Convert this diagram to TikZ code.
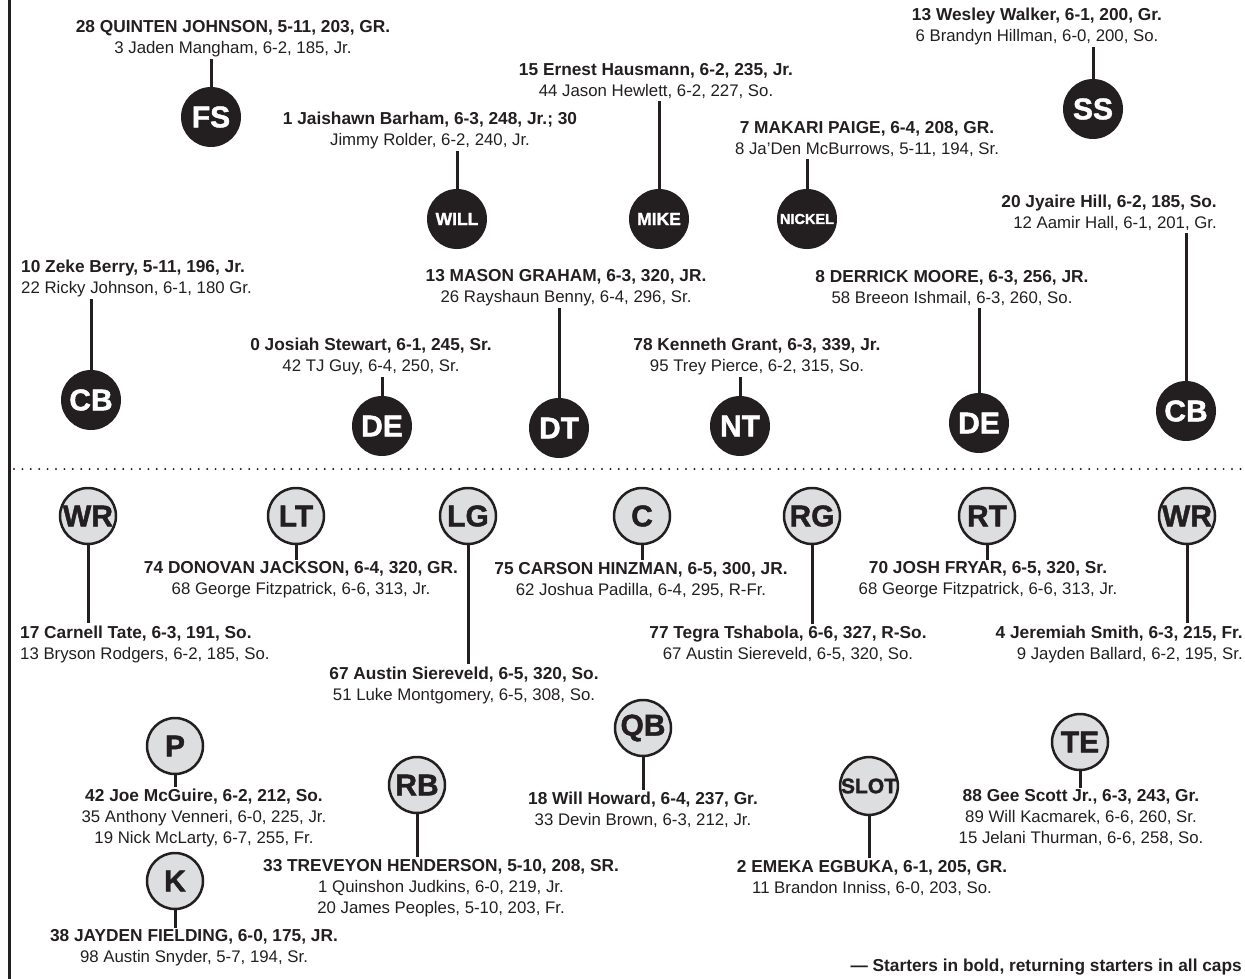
\documentclass[tikz,border=0pt]{standalone}
\usepackage{fontspec}
\setmainfont{Liberation Sans}
\newfontfamily\posfont{Liberation Sans Bold}[FakeBold=1.5]
\usetikzlibrary{positioning}
\definecolor{ink}{RGB}{35,31,32}
\definecolor{offgray}{RGB}{221,222,224}
\newcommand{\starter}[1]{{\bfseries\fontsize{17.3}{21}\selectfont #1}}

\begin{document}
\begin{tikzpicture}[x=1pt, y=-1pt,
    defpos/.style={circle, fill=ink, text=white, minimum size=60pt, inner sep=0pt, font=\posfont\fontsize{30}{30}\selectfont},
    offpos/.style={circle, draw=ink, line width=2.5pt, fill=offgray, text=ink, minimum size=56pt, inner sep=0pt, font=\posfont\fontsize{30}{30}\selectfont},
    info/.style={align=center, text=ink, inner sep=2pt, font=\fontsize{16.8}{21}\selectfont},
    link/.style={draw=ink, line width=3pt}
]
    \useasboundingbox (0,0) rectangle (1245,979);

    % frame and line of scrimmage
    \draw[ink, line width=3pt] (9,0) -- (9,979);
    \draw[ink, line width=2.2pt, line cap=round, dash pattern=on 0pt off 8.4pt] (14,469) -- (1245,469);

    % defense
    \node[defpos] (fs) at (211,117) {FS};
    \node[info] (fs-info) at (233,39) {\starter{28 QUINTEN JOHNSON, 5-11, 203, GR.}\\3 Jaden Mangham, 6-2, 185, Jr.};
    \node[defpos] (ss) at (1093,109) {SS};
    \node[info] (ss-info) at (1037,26) {\starter{13 Wesley Walker, 6-1, 200, Gr.}\\6 Brandyn Hillman, 6-0, 200, So.};
    \node[defpos, font=\posfont\fontsize{17.5}{17.5}\selectfont] (will) at (457,219) {WILL};
    \node[info] (will-info) at (430,130) {\starter{1 Jaishawn Barham, 6-3, 248, Jr.; 30}\\Jimmy Rolder, 6-2, 240, Jr.};
    \node[defpos, font=\posfont\fontsize{17.5}{17.5}\selectfont] (mike) at (659,219) {MIKE};
    \node[info] (mike-info) at (656,81) {\starter{15 Ernest Hausmann, 6-2, 235, Jr.}\\44 Jason Hewlett, 6-2, 227, So.};
    \node[defpos, font=\posfont\fontsize{14.5}{14.5}\selectfont] (nickel) at (807,219) {NICKEL};
    \node[info] (nickel-info) at (867,139) {\starter{7 MAKARI PAIGE, 6-4, 208, GR.}\\8 Ja’Den McBurrows, 5-11, 194, Sr.};
    \node[defpos] (cbl) at (91,400) {CB};
    \node[info, align=left, anchor=west] (cbl-info) at (19,278) {\starter{10 Zeke Berry, 5-11, 196, Jr.}\\22 Ricky Johnson, 6-1, 180 Gr.};
    \node[defpos] (cbr) at (1186,411) {CB};
    \node[info, align=right, anchor=east] (cbr-info) at (1219,213) {\starter{20 Jyaire Hill, 6-2, 185, So.}\\12 Aamir Hall, 6-1, 201, Gr.};
    \node[defpos] (del) at (382,426) {DE};
    \node[info] (del-info) at (371,356) {\starter{0 Josiah Stewart, 6-1, 245, Sr.}\\42 TJ Guy, 6-4, 250, Sr.};
    \node[defpos] (dt) at (559,428) {DT};
    \node[info] (dt-info) at (566,288) {\starter{13 MASON GRAHAM, 6-3, 320, JR.}\\26 Rayshaun Benny, 6-4, 296, Sr.};
    \node[defpos] (nt) at (740,426) {NT};
    \node[info] (nt-info) at (757,356) {\starter{78 Kenneth Grant, 6-3, 339, Jr.}\\95 Trey Pierce, 6-2, 315, So.};
    \node[defpos] (der) at (979,423) {DE};
    \node[info] (der-info) at (952,288) {\starter{8 DERRICK MOORE, 6-3, 256, JR.}\\58 Breeon Ishmail, 6-3, 260, So.};

    \foreach \pos in {fs,ss,will,mike,nickel,cbl,cbr,del,dt,nt,der}
        \draw[link] (\pos) -- (\pos |- \pos-info.south);

    % offense
    \node[offpos] (wrl) at (88,516) {WR};
    \node[info, align=left, anchor=west] (wrl-info) at (18,644) {\starter{17 Carnell Tate, 6-3, 191, So.}\\13 Bryson Rodgers, 6-2, 185, So.};
    \node[offpos] (lt) at (296,516) {LT};
    \node[info] (lt-info) at (301,580) {\starter{74 DONOVAN JACKSON, 6-4, 320, GR.}\\68 George Fitzpatrick, 6-6, 313, Jr.};
    \node[offpos] (lg) at (468,516) {LG};
    \node[info] (lg-info) at (464,685) {\starter{67 Austin Siereveld, 6-5, 320, So.}\\51 Luke Montgomery, 6-5, 308, So.};
    \node[offpos] (c) at (642,516) {C};
    \node[info] (c-info) at (641,580) {\starter{75 CARSON HINZMAN, 6-5, 300, JR.}\\62 Joshua Padilla, 6-4, 295, R-Fr.};
    \node[offpos] (rg) at (812,516) {RG};
    \node[info] (rg-info) at (788,644) {\starter{77 Tegra Tshabola, 6-6, 327, R-So.}\\67 Austin Siereveld, 6-5, 320, So.};
    \node[offpos] (rt) at (987,516) {RT};
    \node[info] (rt-info) at (988,580) {\starter{70 JOSH FRYAR, 6-5, 320, Sr.}\\68 George Fitzpatrick, 6-6, 313, Jr.};
    \node[offpos] (wrr) at (1187,516) {WR};
    \node[info, align=right, anchor=east] (wrr-info) at (1245,644) {\starter{4 Jeremiah Smith, 6-3, 215, Fr.}\\9 Jayden Ballard, 6-2, 195, Sr.};
    \node[offpos] (p) at (175,746) {P};
    \node[info] (p-info) at (204,818) {\starter{42 Joe McGuire, 6-2, 212, So.}\\35 Anthony Venneri, 6-0, 225, Jr.\\19 Nick McLarty, 6-7, 255, Fr.};
    \node[offpos] (k) at (175,881) {K};
    \node[info] (k-info) at (194,948) {\starter{38 JAYDEN FIELDING, 6-0, 175, JR.}\\98 Austin Snyder, 5-7, 194, Sr.};
    \node[offpos] (rb) at (417,785) {RB};
    \node[info] (rb-info) at (441,888) {\starter{33 TREVEYON HENDERSON, 5-10, 208, SR.}\\1 Quinshon Judkins, 6-0, 219, Jr.\\20 James Peoples, 5-10, 203, Fr.};
    \node[offpos] (qb) at (643,728) {QB};
    \node[info] (qb-info) at (643,810) {\starter{18 Will Howard, 6-4, 237, Gr.}\\33 Devin Brown, 6-3, 212, Jr.};
    \node[offpos, font=\posfont\fontsize{21}{21}\selectfont] (slot) at (869,786) {SLOT};
    \node[info] (slot-info) at (872,878) {\starter{2 EMEKA EGBUKA, 6-1, 205, GR.}\\11 Brandon Inniss, 6-0, 203, So.};
    \node[offpos] (te) at (1080,742) {TE};
    \node[info] (te-info) at (1081,818) {\starter{88 Gee Scott Jr., 6-3, 243, Gr.}\\89 Will Kacmarek, 6-6, 260, Sr.\\15 Jelani Thurman, 6-6, 258, So.};

    \foreach \pos in {wrl,lt,lg,c,rg,rt,wrr,p,k,rb,qb,slot,te}
        \draw[link] (\pos) -- (\pos |- \pos-info.north);

    \node[info, anchor=east] (note) at (1244,967) {\starter{— Starters in bold, returning starters in all caps}};
\end{tikzpicture}
\end{document}
